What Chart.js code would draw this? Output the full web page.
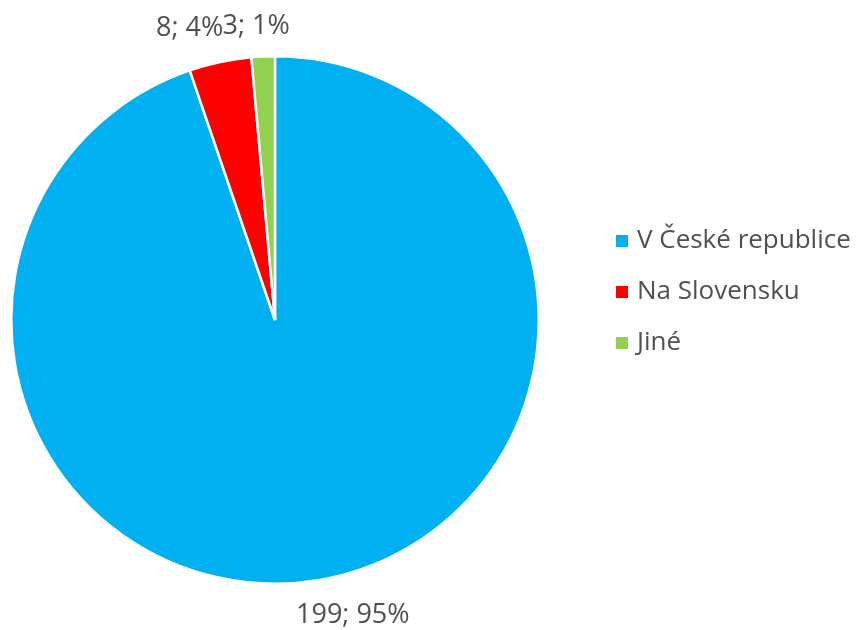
<!DOCTYPE html>
<html>
<head>
<meta charset="utf-8">
<script src="https://cdn.jsdelivr.net/npm/chart.js@4"></script>
<style>
  html, body { margin: 0; padding: 0; background: #fff; }
  #wrap { width: 864px; height: 630px; }
</style>
</head>
<body>
<div id="wrap"><canvas id="chartPie" width="864" height="630"></canvas></div>
<script>
// Data
const labels = ['V České republice', 'Na Slovensku', 'Jiné'];
const values = [199, 8, 3];
const percents = [95, 4, 1];
const colors = ['#00B0F0', '#FF0000', '#92D050'];

const textColor = '#505050';
const fontFamily = '"Open Sans", sans-serif';

// posun popisků oproti výchozí pozici na ose výseče
const labelNudge = [[31, 13], [-26, -12], [-6, -8]];

// Popisky hodnot vně výsečí
const pieLabels = {
    id: 'pieLabels',
    afterDatasetsDraw(chart) {
        const ctx = chart.ctx;
        const meta = chart.getDatasetMeta(0);
        ctx.save();
        ctx.font = '27px ' + fontFamily;
        ctx.fillStyle = textColor;
        ctx.textAlign = 'center';
        ctx.textBaseline = 'middle';
        meta.data.forEach((arc, i) => {
            const mid = (arc.startAngle + arc.endAngle) / 2;
            const r = arc.outerRadius + 22;
            const x = arc.x + Math.cos(mid) * r + labelNudge[i][0];
            const y = arc.y + Math.sin(mid) * r + labelNudge[i][1];
            ctx.fillText(values[i] + '; ' + percents[i] + '%', x, y);
        });
        ctx.restore();
    }
};

// Legenda vpravo
const sideLegend = {
    id: 'sideLegend',
    afterDraw(chart) {
        const ctx = chart.ctx;
        ctx.save();
        ctx.font = '26px ' + fontFamily;
        ctx.textBaseline = 'middle';
        chart.data.labels.forEach((lab, i) => {
            const y = 241 + i * 51;
            ctx.fillStyle = chart.data.datasets[0].backgroundColor[i];
            ctx.fillRect(616, y - 6, 12, 12);
            ctx.fillStyle = textColor;
            ctx.fillText(lab, 637, y);
        });
        ctx.restore();
    }
};

new Chart(document.getElementById('chartPie'), {
    type: 'pie',
    data: {
        labels: labels,
        datasets: [{
            data: values,
            backgroundColor: colors,
            borderColor: '#ffffff',
            borderWidth: 2.5
        }]
    },
    options: {
        responsive: false,
        animation: false,
        layout: { padding: { left: 10, right: 324, top: 55, bottom: 45 } },
        plugins: {
            legend: { display: false },
            tooltip: { enabled: false }
        }
    },
    plugins: [pieLabels, sideLegend]
});
</script>
</body>
</html>
